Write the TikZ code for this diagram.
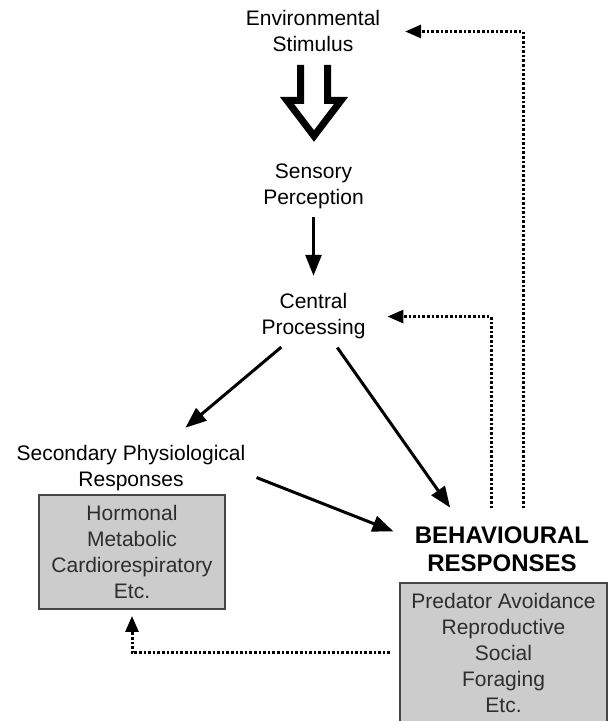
\documentclass[tikz,border=0pt]{standalone}
\usepackage{fontspec}
\setmainfont{Liberation Sans}
\usetikzlibrary{positioning,arrows.meta,calc}
\definecolor{boxgray}{RGB}{204,204,204}
\definecolor{boxtext}{RGB}{45,45,45}
\definecolor{boxline}{RGB}{70,70,70}

\begin{document}
\begin{tikzpicture}[x=1pt,y=1pt,
		lbl/.style={align=center,inner sep=0pt,outer sep=0pt,anchor=base,font=\fontsize{21}{26}\selectfont},
		bigl/.style={lbl,font=\fontsize{24}{28}\selectfont\bfseries},
		grbox/.style={draw=boxline,line width=1.3pt,fill=boxgray,text=boxtext,align=center,inner sep=0pt,outer sep=0pt,font=\fontsize{21}{26}\selectfont},
		arr/.style={line width=3pt,-{Triangle[length=21pt,width=16pt]}},
		fb/.style={line width=3pt,dash pattern=on 2.6pt off 2pt,-{Triangle[length=16pt,width=13pt]}}]
		\def\sw{13.5}
		\def\sh{35.5}
		\def\hw{27}
		\useasboundingbox (0,0) rectangle (609,721);
		\node[lbl] (env) at (313,669) {Environmental\\Stimulus};
		\node[lbl] (sens) at (313.5,516) {Sensory\\Perception};
		\node[lbl] (cent) at (313.5,386) {Central\\Processing};
		\node[lbl] (sec) at (131,234) {Secondary Physiological\\Responses};
		\node[bigl] (beh) at (502,149) {BEHAVIOURAL\\RESPONSES};
		\node[grbox,minimum width=186pt,minimum height=114pt] (secbox) at (132,169) {Hormonal\\Metabolic\\Cardiorespiratory\\Etc.};
		\node[grbox,minimum width=207pt,minimum height=140pt] (behbox) at (503.5,68) {Predator Avoidance\\Reproductive\\Social\\Foraging\\Etc.};
		%stimulus arrow
		\coordinate (hollow) at (314,656);
		\draw[line width=7pt] (hollow) ++(-\sw,0) --++ (0,-\sh) --++ (-\sw,0) --++ (\hw,-\sh) --++ (\hw,\sh) --++ (-\sw,0) --++ (0,\sh);
		\draw[arr,shorten <=8pt,shorten >=18pt] (sens.south) -- (cent.north);
		\draw[arr,shorten <=12pt,shorten >=28pt] ([xshift=-23pt]cent.south) -- ([xshift=33pt]sec.north);
		\draw[arr,shorten <=10pt,shorten >=24pt] ([xshift=18pt]cent.south) -- ([xshift=-38pt]beh.north);
		\draw[arr,shorten <=12pt,shorten >=23pt] ([yshift=-4.6pt]sec.east) -- ([yshift=9.9pt]beh.west);
		%feedback
		\draw[fb,shorten <=19pt,shorten >=22pt] ([xshift=-11pt]beh.north) |- (cent.east);
		\draw[fb,shorten <=19pt,shorten >=25pt] ([xshift=21pt]beh.north) |- (env.east);
		\draw[fb,shorten <=10pt,shorten >=7pt] (behbox.west) -| (secbox.south);
	\end{tikzpicture}
\end{document}
